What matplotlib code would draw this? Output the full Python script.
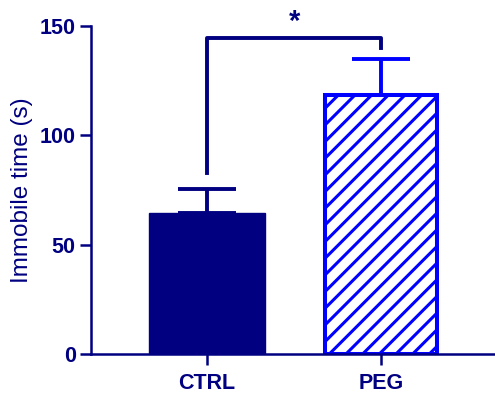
import matplotlib.pyplot as plt

plt.rcParams['font.family'] = ['Liberation Sans', 'DejaVu Sans']
plt.rcParams['hatch.linewidth'] = 2.2

groups = ['CTRL', 'PEG']
means = [64.6, 118.3]
sems = [10.8, 16.5]
bracket_y = 144.5
bracket_legs = [82.8, 140.0]

navy = '#000080'
blue = '#0000FF'
colors = [navy, blue]

fig = plt.figure(figsize=(4.95, 3.94), dpi=100)
ax = fig.add_axes([0.184, 0.1015, 0.816, 0.8325])

x = list(range(len(groups)))
# error bars first so the bar covers the lower half
for i in x:
    ax.errorbar(x[i], means[i], yerr=[[0], [sems[i]]], fmt='none', ecolor=colors[i],
                elinewidth=2.8, capsize=21, capthick=2.8, zorder=1)
ax.bar(x[0], means[0], width=0.665, color=navy, edgecolor=navy, linewidth=1, zorder=2)
ax.bar(x[1], means[1], width=0.64, color='white', edgecolor=blue, linewidth=2.9,
       hatch='//', zorder=2)

# significance bracket
ax.plot([x[0], x[0], x[1], x[1]],
        [bracket_legs[0], bracket_y, bracket_y, bracket_legs[1]],
        color=navy, lw=2.8, solid_joinstyle='round', clip_on=False, zorder=3)
ax.text(0.5, bracket_y + 1, '*', ha='center', va='bottom', fontsize=21,
        fontweight='bold', color=navy)

ax.set_xlim(-0.667, 1.655)
ax.set_ylim(0, 150)
ax.set_yticks([0, 50, 100, 150])
ax.set_xticks(x)
ax.set_xticklabels(groups)
ax.set_ylabel('Immobile time (s)', color=navy, fontsize=17.5, labelpad=5)

for s in ['top', 'right']:
    ax.spines[s].set_visible(False)
for s in ['left', 'bottom']:
    ax.spines[s].set_color(navy)
    ax.spines[s].set_linewidth(1.8)
ax.tick_params(colors=navy, width=1.8, length=8, labelsize=15.5)
ax.tick_params(axis='x', pad=6)
ax.tick_params(axis='y', pad=3)
for lab in ax.get_xticklabels() + ax.get_yticklabels():
    lab.set_fontweight('bold')

fig.savefig('out.png', dpi=100)
